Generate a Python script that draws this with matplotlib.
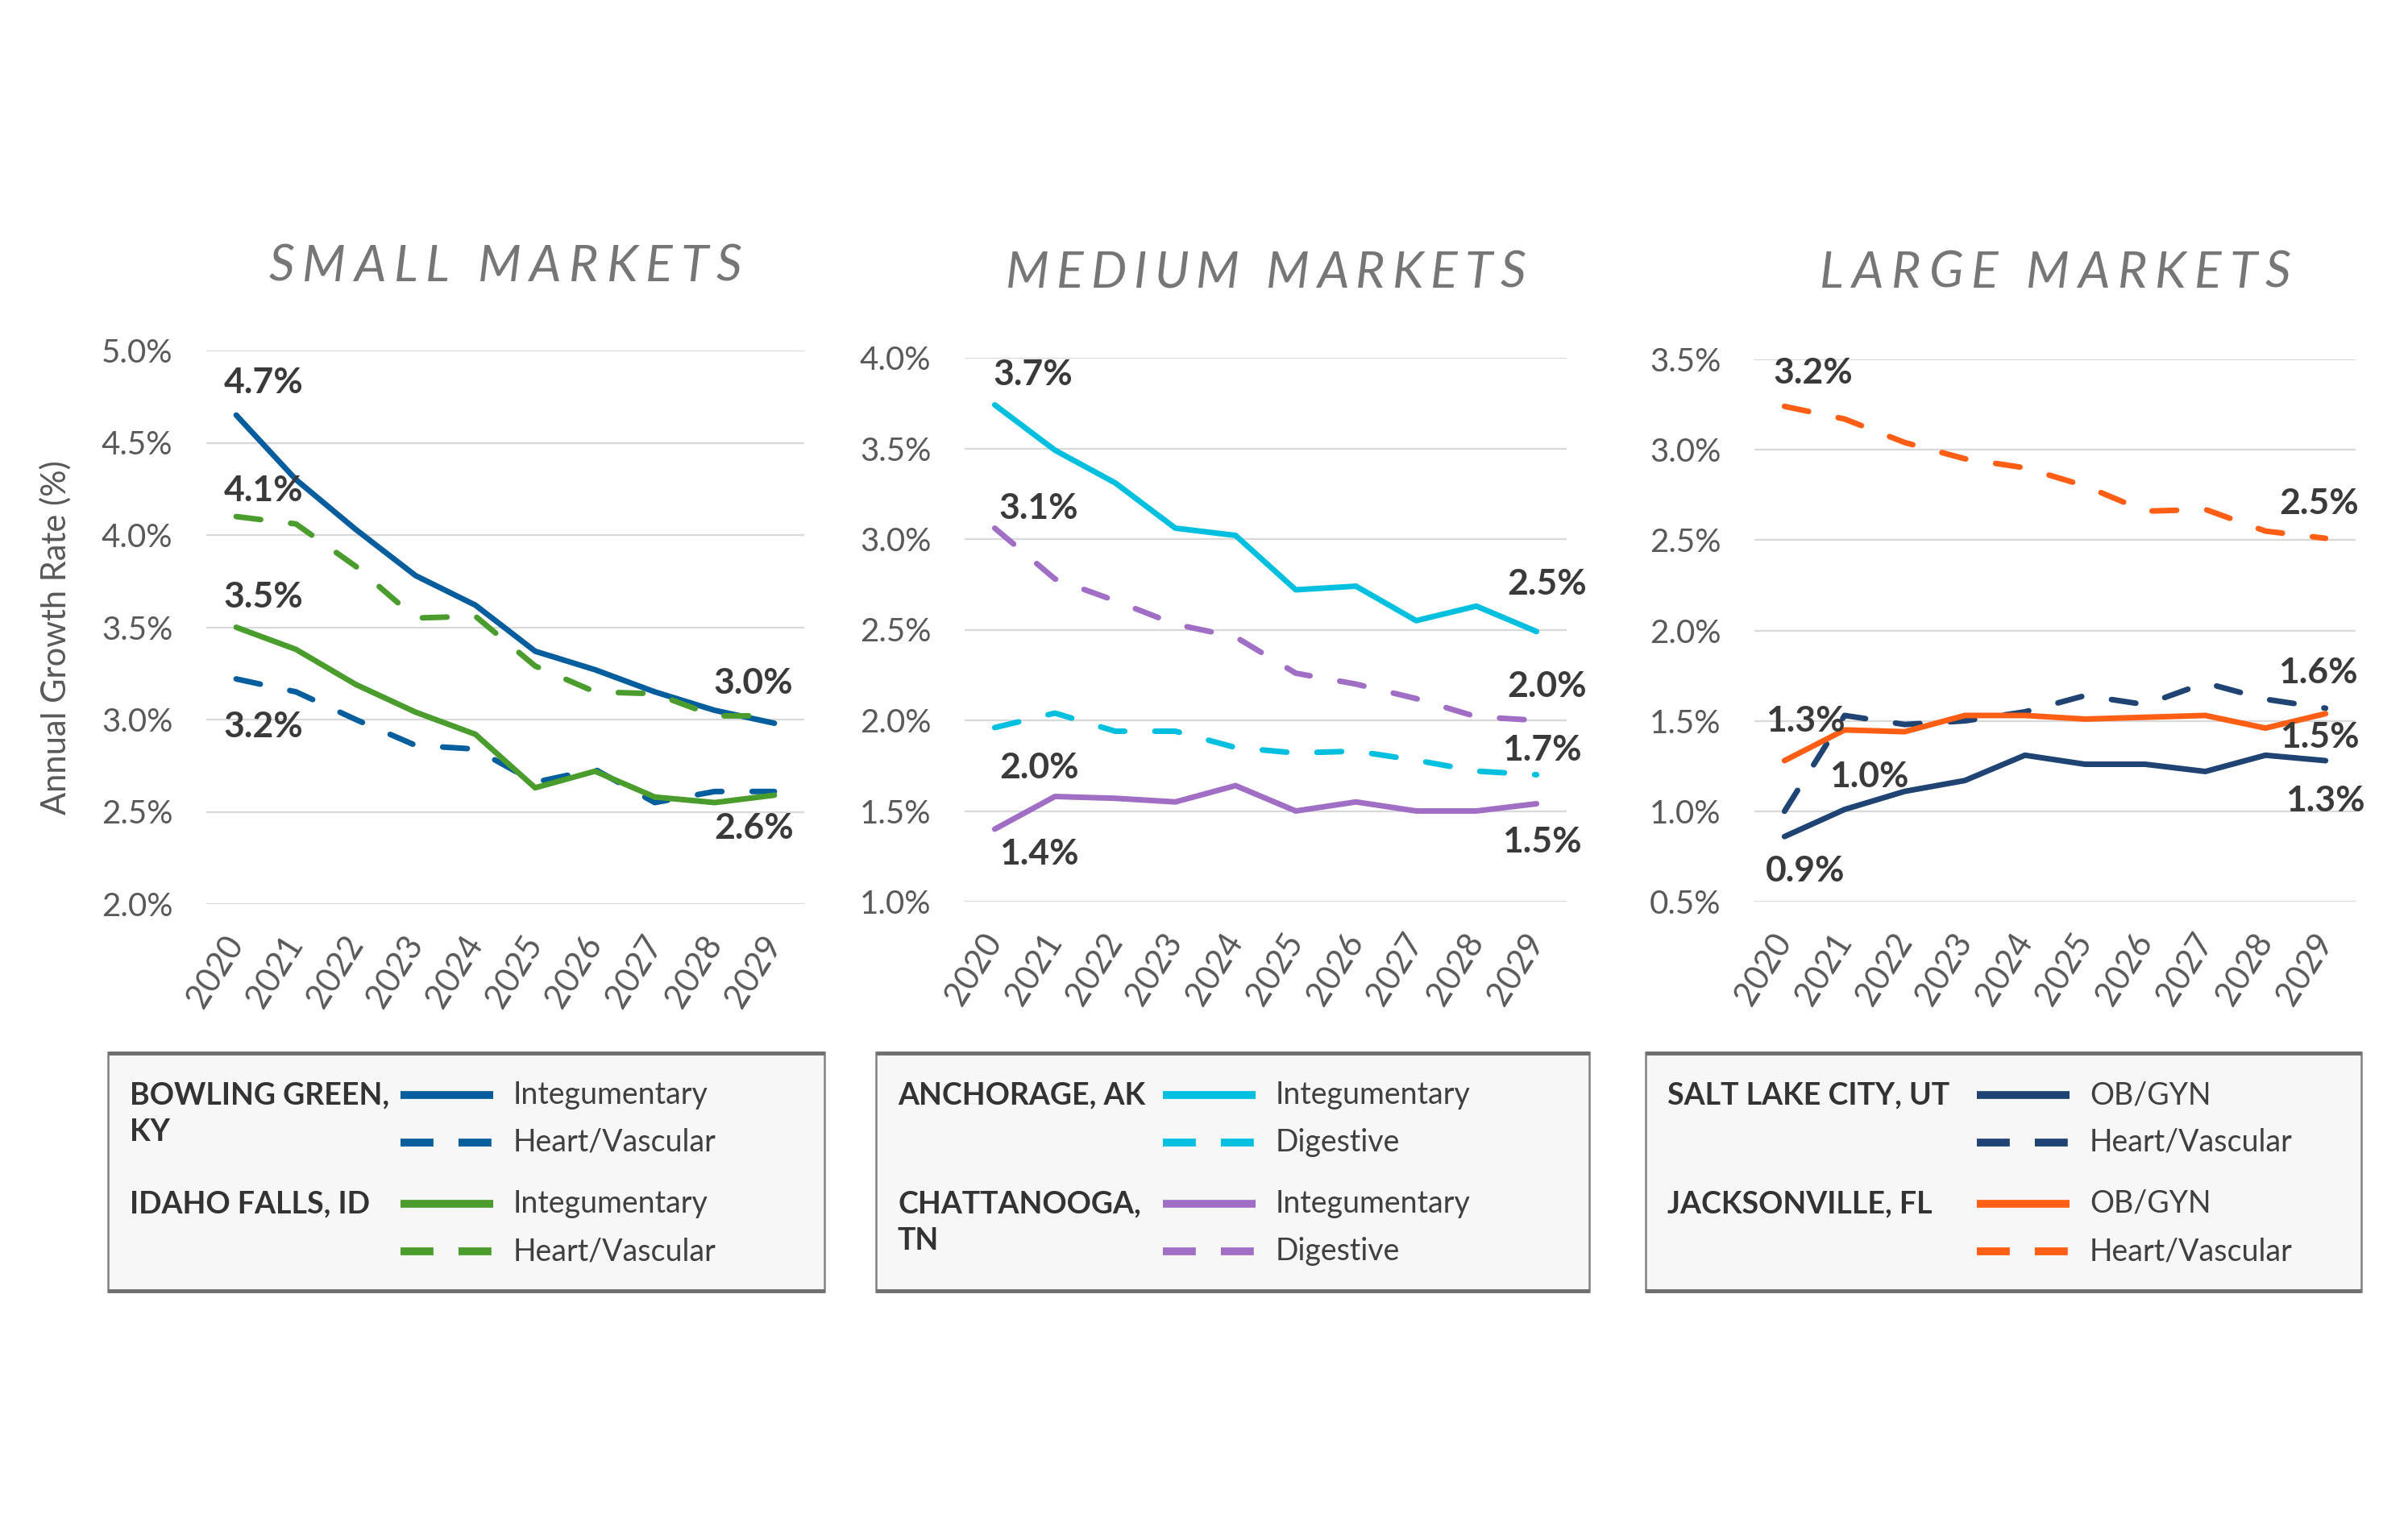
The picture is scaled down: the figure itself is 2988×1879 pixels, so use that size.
import matplotlib
matplotlib.use("Agg")
import matplotlib.pyplot as plt
from matplotlib.lines import Line2D
from matplotlib.patches import Rectangle

plt.rcParams['font.family'] = ['Lato', 'DejaVu Sans']

W, H = 2988, 1879
DPI = 100

years = list(range(2020, 2030))

# small markets
bg_integ = [4.65, 4.30, 4.03, 3.78, 3.62, 3.37, 3.27, 3.15, 3.05, 2.98]
bg_heart = [3.22, 3.15, 3.00, 2.86, 2.84, 2.66, 2.73, 2.55, 2.61, 2.61]
if_integ = [3.50, 3.38, 3.19, 3.04, 2.92, 2.63, 2.72, 2.58, 2.55, 2.59]
if_heart = [4.10, 4.06, 3.83, 3.55, 3.56, 3.29, 3.15, 3.14, 3.02, 3.02]

# medium markets
anc_integ = [3.74, 3.49, 3.31, 3.06, 3.02, 2.72, 2.74, 2.55, 2.63, 2.49]
anc_dig = [1.96, 2.04, 1.94, 1.94, 1.85, 1.82, 1.83, 1.78, 1.72, 1.70]
cha_integ = [1.40, 1.58, 1.57, 1.55, 1.64, 1.50, 1.55, 1.50, 1.50, 1.54]
cha_dig = [3.06, 2.78, 2.66, 2.53, 2.46, 2.26, 2.20, 2.12, 2.02, 2.00]

# large markets
slc_obgyn = [0.86, 1.01, 1.11, 1.17, 1.31, 1.26, 1.26, 1.22, 1.31, 1.28]
slc_heart = [1.00, 1.53, 1.48, 1.50, 1.55, 1.64, 1.59, 1.71, 1.62, 1.57]
jax_obgyn = [1.28, 1.45, 1.44, 1.53, 1.53, 1.51, 1.52, 1.53, 1.46, 1.54]
jax_heart = [3.24, 3.17, 3.04, 2.95, 2.90, 2.80, 2.66, 2.67, 2.55, 2.51]

titles = ["SMALL MARKETS", "MEDIUM MARKETS", "LARGE MARKETS"]
yticks = [[2.0, 2.5, 3.0, 3.5, 4.0, 4.5, 5.0],
          [1.0, 1.5, 2.0, 2.5, 3.0, 3.5, 4.0],
          [0.5, 1.0, 1.5, 2.0, 2.5, 3.0, 3.5]]

cities = [[["BOWLING GREEN,", "KY"], ["IDAHO FALLS, ID"]],
          [["ANCHORAGE, AK"], ["CHATTANOOGA,", "TN"]],
          [["SALT LAKE CITY, UT"], ["JACKSONVILLE, FL"]]]
services = [["Integumentary", "Heart/Vascular"],
            ["Integumentary", "Digestive"],
            ["OB/GYN", "Heart/Vascular"]]

colors = [["#045d9c", "#4a9c2d"],
          ["#00bfdf", "#a16ec5"],
          ["#1f4473", "#ff5e14"]]

# panel -> city -> (solid, dashed)
series = [[(bg_integ, bg_heart), (if_integ, if_heart)],
          [(anc_integ, anc_dig), (cha_integ, cha_dig)],
          [(slc_obgyn, slc_heart), (jax_obgyn, jax_heart)]]

# data labels: (city, 0 solid / 1 dashed, year index, dx pt, dy pt, ha)
labels = [
    [(0, 0, 0, -11, 29, 'left'), (1, 1, 0, -11, 23, 'left'),
     (1, 0, 0, -11, 27, 'left'), (0, 1, 0, -11, -43, 'left'),
     (1, 1, 9, 17, 29, 'right'), (0, 1, 9, 17, -33, 'right')],
    [(0, 0, 0, -1, 27, 'left'), (1, 1, 0, 4, 18, 'left'),
     (0, 1, 0, 4, -36, 'left'), (1, 0, 0, 4, -22, 'left'),
     (0, 0, 9, 45, 42, 'right'), (1, 1, 9, 45, 30, 'right'),
     (0, 1, 9, 40, 22, 'right'), (1, 0, 9, 40, -34, 'right')],
    [(1, 1, 0, -10, 30, 'left'), (1, 0, 0, -17, 35, 'left'),
     (0, 1, 0, 40, 31, 'left'), (0, 0, 0, -17, -31, 'left'),
     (1, 1, 9, 30, 31, 'right'), (0, 1, 9, 29, 32, 'right'),
     (1, 0, 9, 30, -21, 'right'), (0, 0, 9, 35, -36, 'right')],
]

# layout in pixels
axes_px = [(256, 435, 998, 1122), (1197, 444, 1944, 1119), (2177, 446, 2923, 1119)]
title_y = [326, 334, 334]
title_track = [10, 9, 10]
box_x = [(134, 1023), (1087, 1972), (2042, 2930)]
box_y = (1306, 1603)
handle_dx = [363, 356, 411]
row_y = [1359, 1418, 1494, 1553]

LW = 5.0
DASH = (4.4, 5.4)

fig = plt.figure(figsize=(W / DPI, H / DPI), dpi=DPI)
ov = fig.add_axes([0, 0, 1, 1], zorder=0)
ov.set_xlim(0, W)
ov.set_ylim(H, 0)
ov.axis('off')


def spaced_title(xc, yc, s, size, track):
    r = fig.canvas.get_renderer()

    def width(t):
        tt = ov.text(0, 0, t, fontsize=size, style='italic')
        w = tt.get_window_extent(r).width
        tt.remove()
        return w
    total = width(s) + track * (len(s) - 1)
    x0 = xc - total / 2
    base = yc + 22.5
    for i, ch in enumerate(s):
        if ch == ' ':
            continue
        xi = x0 + width(s[:i + 1]) - width(ch) + track * i
        ov.text(xi, base, ch, fontsize=size, style='italic', color='#767676',
                ha='left', va='baseline')


for p in range(3):
    x0, y0, x1, y1 = axes_px[p]
    ax = fig.add_axes([x0 / W, 1 - y1 / H, (x1 - x0) / W, (y1 - y0) / H], zorder=2)
    ax.patch.set_alpha(0)
    for c in range(2):
        solid, dashed = series[p][c]
        ax.plot(years, solid, color=colors[p][c], lw=LW, solid_capstyle='round',
                solid_joinstyle='round', clip_on=False, zorder=3)
        ax.plot(years, dashed, color=colors[p][c], lw=LW, dashes=DASH,
                dash_capstyle='round', clip_on=False, zorder=3)
    ax.set_xlim(2019.5, 2029.5)
    ax.set_ylim(yticks[p][0], yticks[p][-1])
    ax.set_yticks(yticks[p])
    ax.yaxis.set_major_formatter(lambda v, pos: f"{v:.1f}%")
    ax.set_xticks(years)
    ax.set_xticklabels([str(y) for y in years], rotation=58, ha='right',
                       va='center', rotation_mode='anchor')
    ax.grid(axis='y', color='#d9d9d9', lw=1.6, zorder=0)
    for s in ax.spines.values():
        s.set_visible(False)
    ax.tick_params(axis='y', length=0, pad=30, labelsize=29, labelcolor='#595959')
    ax.tick_params(axis='x', length=0, pad=31, labelsize=30, labelcolor='#595959')
    for c, k, i, dx, dy, ha in labels[p]:
        v = series[p][c][k][i]
        ax.annotate(f"{v:.1f}%", (years[i], v), xytext=(dx, dy),
                    textcoords='offset points', ha=ha, va='center',
                    fontsize=32, fontweight='bold', color='#3a3a3a',
                    annotation_clip=False, zorder=5)

    spaced_title((x0 + x1) / 2, title_y[p], titles[p], 45, title_track[p])

    # legend box
    bx0, bx1 = box_x[p]
    by0, by1 = box_y
    ov.add_patch(Rectangle((bx0, by0), bx1 - bx0, by1 - by0, facecolor='#f7f7f7',
                           edgecolor='#808080', lw=1.8))
    ov.plot([bx0, bx1], [by0 + 1, by0 + 1], color='#6f6f6f', lw=3.5, solid_capstyle='butt')
    ov.plot([bx0, bx1], [by1 - 1, by1 - 1], color='#6f6f6f', lw=3.5, solid_capstyle='butt')
    for c in range(2):
        ry = row_y[2 * c]
        for j, line in enumerate(cities[p][c]):
            ov.text(bx0 + 27, ry + 46 * j, line, fontsize=27, fontweight='bold',
                    color='#333333', ha='left', va='center')
        for k in range(2):
            yy = row_y[2 * c + k]
            hx = bx0 + handle_dx[p]
            if k == 0:
                ov.add_line(Line2D([hx, hx + 115], [yy, yy], color=colors[p][c],
                                   lw=7, solid_capstyle='butt'))
            else:
                ov.add_line(Line2D([hx, hx + 115], [yy, yy], color=colors[p][c],
                                   lw=7, dashes=(4.2, 3.2), dash_capstyle='butt'))
            ov.text(hx + 140, yy, services[p][k], fontsize=27, color='#404040',
                    ha='left', va='center')

ov.text(69, 791, "Annual Growth Rate (%)", rotation=90, ha='center', va='center',
        fontsize=30, color='#595959')

fig.savefig("out.png", dpi=DPI)
